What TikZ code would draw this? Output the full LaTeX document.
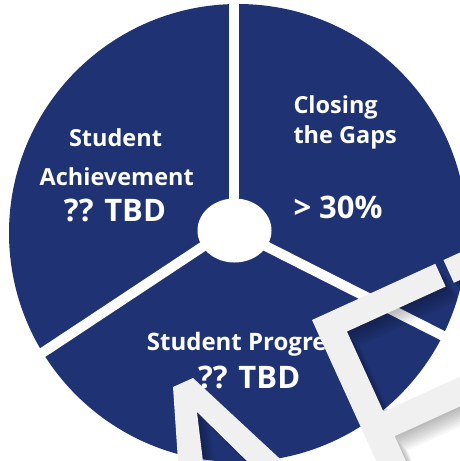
\documentclass[tikz,border=0pt]{standalone}
\usepackage{fontspec}
\setmainfont{Open Sans}
\usetikzlibrary{shapes.geometric}
\definecolor{pieblue}{HTML}{1F3273}
\definecolor{marklight}{HTML}{F0F0F0}
\newcommand{\Fpath}{(0,0) -- (135.5,0) -- (135.5,25) -- (27,25) -- (27,113) -- (230,113) -- (230,140) -- (27,140) -- (27,240) -- (0,240) -- cycle (144.5,0) -- (240,0) -- (240,25) -- (144.5,25) -- cycle}
\newcommand{\Npath}{(173,387) -- (193,378) -- (292,470) -- (256,470) -- (197,412) -- (204,470) -- (178.6,470) -- cycle}
\newcommand{\drawF}[3]{%
  \begin{scope}[shift={(312+#1,320+#2)}, x={(0.9098pt,0.4149pt)}, y={(0.4149pt,-0.9098pt)}]
    \fill[#3] \Fpath;
  \end{scope}}
\newcommand{\drawN}[3]{%
  \begin{scope}[shift={(#1,#2)}]
    \fill[#3] \Npath;
  \end{scope}}
\begin{document}
\begin{tikzpicture}[x=1pt,y=-1pt,
  txt/.style={text=white,inner sep=0pt},
  small/.style={font=\bfseries\fontsize{23.5}{28}\selectfont},
  mid/.style={font=\bfseries\fontsize{24}{28}\selectfont},
  big/.style={font=\bfseries\fontsize{31}{36}\selectfont},
  divider/.style={draw=white,line width=10pt},
  shadowlayer/.style={fill=black,opacity=0.035}]
\useasboundingbox (0,0) rectangle (460,461);
\clip (0,0) rectangle (460,461);
\fill[white] (0,0) rectangle (460,461);
% pie
\fill[pieblue] (238,233) circle[radius=229pt];
% dividers
\coordinate (ctr) at (234,230);
\coordinate (ctrl) at (234,226);
\coordinate (dtop) at (234,-5);
\coordinate (dleft) at (20,367.6);
\coordinate (dright) at (475,352);
\draw[divider] (ctr) -- (dtop);
\draw[divider] (ctrl) -- (dleft);
\draw[divider] (ctr) -- (dright);
\node[ellipse, fill=white, minimum width=74pt, minimum height=64pt, inner sep=0pt] (hub) at (234.5,230.5) {};
% texts
\node[txt, small, anchor=base] (sa1) at (115.5,146.7) {Student};
\node[txt, small, anchor=base] (sa2) at (116.7,185) {Achievement};
\node[txt, big, anchor=base] (sa3) at (115,221.7) {?? TBD};
\node[txt, small, anchor=base west] (cg1) at (293.3,113.3) {Closing};
\node[txt, small, anchor=base west] (cg2) at (293.3,143.3) {the Gaps};
\node[txt, big, anchor=base west] (cg3) at (293.3,218.3) {> 30\%};
\node[txt, mid, anchor=base west] (sp1) at (146.7,350.7) {Student Progress};
\node[txt, big, anchor=base] (sp2) at (249.2,388.3) {?? TBD};
% overlay shadows
\foreach \k in {1,...,8} {
  \drawF{\k*1.6}{\k*1.8}{shadowlayer}
  \drawN{\k*1.6}{\k*1.8}{shadowlayer}
}
% overlay marks
\drawF{0}{0}{marklight}
\drawN{0}{0}{marklight}
\end{tikzpicture}
\end{document}
